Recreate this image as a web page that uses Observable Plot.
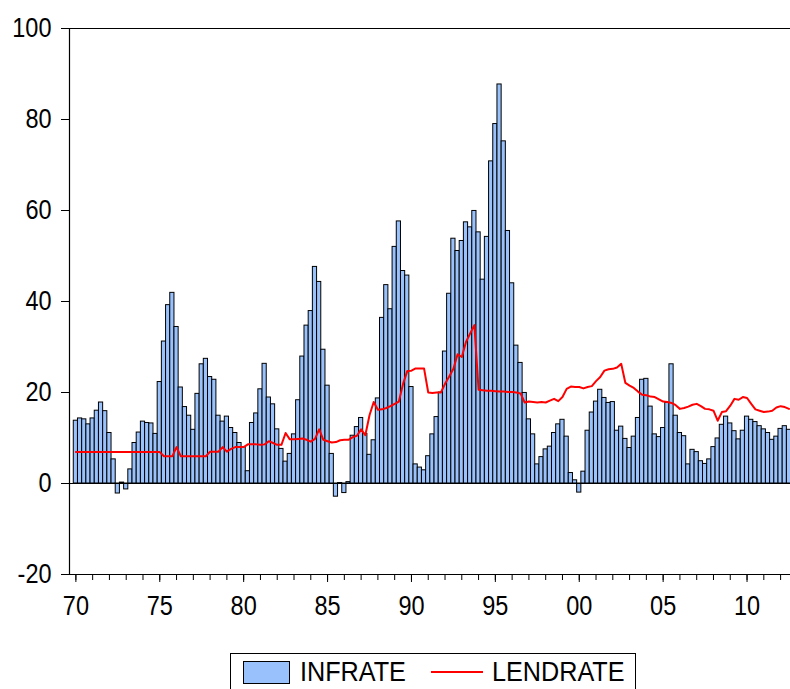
<!DOCTYPE html>
<html><head><meta charset="utf-8">
<script src="https://cdn.jsdelivr.net/npm/d3@7"></script>
<script src="https://cdn.jsdelivr.net/npm/@observablehq/plot@0.6"></script>
<style>
html,body{margin:0;padding:0;background:#fff;}
#wrap{position:relative;width:790px;height:689px;overflow:hidden;font-family:"Liberation Sans",Arial,sans-serif;background:#fff;}
#wrap svg{position:absolute;left:0;top:0;}
#legend{position:absolute;left:230px;top:653px;width:406px;height:60px;border:1px solid #000;box-sizing:border-box;}
.sw{position:absolute;left:12px;top:7px;width:47px;height:23px;background:#99c2fc;border:1px solid #000;box-sizing:border-box;}
.ln{position:absolute;left:200px;top:17px;width:52px;height:2px;background:#ff0000;}
.lt{position:absolute;top:2px;font-size:28px;line-height:32px;color:#000;transform:scaleX(0.9);transform-origin:left center;white-space:nowrap;}
</style></head><body><div id="wrap"></div>
<script>
// ---- data (quarterly, 1970Q1 onward) ----
const startYear = 1970;
const infrate = [
  13.8, 14.3, 14.1, 13.0,   // 1970
  14.3, 16.0, 17.8, 15.9,   // 1971
  11.1, 5.3, -2.2, 0.2,     // 1972
  -1.3, 3.1, 8.9, 11.2,     // 1973
  13.6, 13.3, 13.2, 10.9,   // 1974
  22.3, 31.2, 39.2, 41.9,   // 1975
  34.4, 21.1, 16.8, 14.9,   // 1976
  11.8, 19.7, 26.2, 27.4,   // 1977
  23.4, 22.8, 14.9, 13.6,   // 1978
  14.7, 12.2, 11.1, 8.9,    // 1979
  8.0, 2.7, 13.3, 15.4,     // 1980
  20.7, 26.3, 18.9, 17.4,   // 1981
  11.9, 7.6, 4.8, 6.5,      // 1982
  10.8, 18.3, 27.9, 34.7,   // 1983
  37.9, 47.6, 44.3, 29.4,   // 1984
  21.5, 6.5, -2.9, 0.1,     // 1985
  -2.1, 0.3, 10.5, 12.4,    // 1986
  14.4, 10.9, 6.3, 9.5,     // 1987
  18.7, 36.4, 43.6, 38.3,   // 1988
  52.0, 57.6, 46.7, 45.7,   // 1989
  21.2, 4.2, 3.5, 2.9,      // 1990
  6.0, 10.8, 14.6, 20.0,    // 1991
  29.0, 41.7, 53.8, 51.1,   // 1992
  53.3, 57.4, 56.3, 59.9,   // 1993
  55.2, 44.8, 54.2, 70.8,   // 1994
  79.0, 87.7, 75.2, 55.5,   // 1995
  44.0, 30.3, 26.5, 19.9,   // 1996
  14.1, 10.8, 4.2, 5.8,     // 1997
  7.5, 8.1, 11.1, 13.0,     // 1998
  14.0, 10.3, 2.3, 0.7,     // 1999
  -2.0, 2.6, 11.6, 15.6,    // 2000
  18.0, 20.6, 18.8, 17.7,   // 2001
  17.9, 11.6, 12.5, 9.8,    // 2002
  7.8, 10.3, 14.4, 22.8,    // 2003
  23.0, 16.9, 10.8, 10.2,   // 2004
  12.2, 17.7, 26.2, 14.9,   // 2005
  11.1, 10.4, 4.2, 7.4,     // 2006
  6.9, 4.9, 4.3, 5.3,       // 2007
  8.0, 9.9, 12.9, 14.7,     // 2008
  13.2, 11.5, 9.7, 11.6,    // 2009
  14.7, 14.0, 13.5, 12.6,   // 2010
  11.9, 11.1, 9.6, 10.3,    // 2011
  12.0, 12.6, 11.8          // 2012
];
const lendrate = [
  6.9, 6.9, 6.9, 6.9,       // 1970
  6.9, 6.9, 6.9, 6.9,       // 1971
  6.9, 6.9, 6.9, 6.9,       // 1972
  6.9, 6.9, 6.9, 6.9,       // 1973
  6.9, 6.9, 6.9, 6.9,       // 1974
  6.9, 6.0, 6.0, 6.0,       // 1975
  8.0, 6.0, 6.0, 6.0,       // 1976
  6.0, 6.0, 6.0, 6.0,       // 1977
  7.0, 7.0, 7.0, 8.0,       // 1978
  7.0, 7.6, 8.0, 8.0,       // 1979
  8.0, 8.6, 8.6, 8.6,       // 1980
  8.5, 8.6, 9.3, 8.9,       // 1981
  8.5, 8.5, 11.1, 9.7,      // 1982
  9.7, 9.8, 9.9, 9.6,       // 1983
  9.2, 9.8, 11.9, 9.6,      // 1984
  9.3, 9.0, 9.1, 9.5,       // 1985
  9.6, 9.6, 10.2, 10.5,     // 1986
  11.9, 10.6, 15.0, 17.9,   // 1987
  16.2, 16.3, 16.6, 17.0,   // 1988
  17.5, 18.0, 21.9, 24.7,   // 1989
  24.8, 25.3, 25.3, 25.3,   // 1990
  20.0, 19.9, 20.0, 20.0,   // 1991
  21.9, 23.5, 25.2, 28.4,   // 1992
  27.8, 31.1, 33.0, 34.8,   // 1993
  20.6, 20.5, 20.4, 20.4,   // 1994
  20.3, 20.2, 20.2, 20.1,   // 1995
  20.1, 20.0, 19.8, 17.8,   // 1996
  18.0, 17.9, 17.8, 17.9,   // 1997
  17.8, 18.2, 18.6, 18.1,   // 1998
  19.0, 20.8, 21.3, 21.2,   // 1999
  21.2, 20.9, 21.2, 21.4,   // 2000
  22.5, 23.4, 24.8, 25.1,   // 2001
  25.2, 25.5, 26.3, 22.1,   // 2002
  21.5, 21.0, 20.2, 19.5,   // 2003
  19.4, 19.1, 19.0, 18.5,   // 2004
  18.0, 17.9, 17.7, 17.2,   // 2005
  16.4, 16.6, 16.9, 17.3,   // 2006
  17.5, 17.0, 16.4, 16.3,   // 2007
  16.0, 13.8, 15.7, 15.9,   // 2008
  17.1, 18.6, 18.4, 19.0,   // 2009
  18.8, 17.5, 16.3, 16.0,   // 2010
  15.7, 15.8, 16.0, 16.7,   // 2011
  17.0, 16.8, 16.4          // 2012
];
const seriesNames = ["INFRATE", "LENDRATE"];
const majorTickYears = [1970, 1975, 1980, 1985, 1990, 1995, 2000, 2005, 2010];
const majorTickLabels = ["70", "75", "80", "85", "90", "95", "00", "05", "10"];
const minorTickYears = d3.range(1970, 2013);
const yTicks = [-20, 0, 20, 40, 60, 80, 100];
const colors = {bar: "#99c2fc", line: "#ff0000"};

// ---- table ----
const data = infrate.map((v, i) => ({t: startYear + i / 4, inf: v, lend: lendrate[i]}));
const xDomain = [1969.62, 2012.59];

const chart = Plot.plot({
  width: 790,
  height: 630,
  marginLeft: 69,
  marginRight: 0,
  marginTop: 28,
  marginBottom: 56,
  style: {fontFamily: "'Liberation Sans', Arial, sans-serif", fontSize: "27px", color: "#000", background: "#fff", overflow: "hidden"},
  x: {domain: xDomain},
  y: {domain: [-20, 100]},
  marks: [
    Plot.rect(data, {x1: d => d.t - 0.125, x2: d => d.t + 0.125, y1: 0, y2: "inf", fill: colors.bar, stroke: "#000", strokeWidth: 1}),
    Plot.ruleY([0], {stroke: "#000", strokeWidth: 1}),
    Plot.line(data, {x: "t", y: "lend", stroke: colors.line, strokeWidth: 2}),
    Plot.ruleY([-20, 100], {stroke: "#000", strokeWidth: 1.2}),
    Plot.ruleX([xDomain[0]], {stroke: "#000", strokeWidth: 1.2}),
    Plot.axisY({ticks: yTicks, tickSize: 8, tickPadding: 10, tickFormat: d => String(d), label: null, fontSize: 27}),
    Plot.axisX({ticks: minorTickYears, tickSize: 6, tickFormat: () => "", label: null}),
    Plot.axisX({ticks: majorTickYears, tickSize: 8, tickPadding: 13, tickFormat: d => majorTickLabels[majorTickYears.indexOf(d)], label: null, fontSize: 27})
  ]
});

// horizontally condense the text like the reference (narrow glyphs)
chart.querySelectorAll("text").forEach(el => {
  const tr = el.getAttribute("transform");
  if (tr) el.setAttribute("transform", tr + " scale(0.87,1)");
});

const wrap = document.getElementById("wrap");
wrap.appendChild(chart);

const legend = document.createElement("div");
legend.id = "legend";
legend.innerHTML = `<div class="sw"></div><div class="lt" style="left:69px">${seriesNames[0]}</div>` +
  `<div class="ln"></div><div class="lt" style="left:261px">${seriesNames[1]}</div>`;
wrap.appendChild(legend);
</script>
</body></html>
